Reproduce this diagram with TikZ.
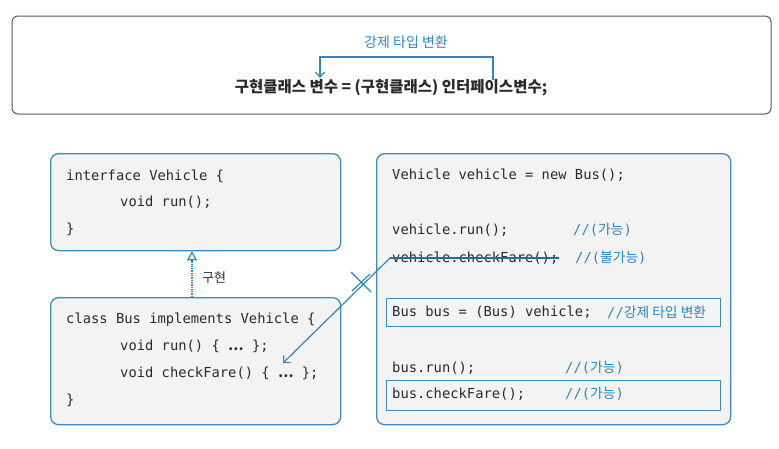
\documentclass[tikz,border=0pt]{standalone}
\usepackage{fontspec}
\setmainfont{Noto Sans CJK KR}
\setmonofont{DejaVu Sans Mono}
\newfontfamily\kr{Noto Sans CJK KR}
\usetikzlibrary{arrows.meta}
\definecolor{bbord}{HTML}{3F8BBA}
\definecolor{bfill}{HTML}{F3F3F3}
\definecolor{btext}{HTML}{2F86C0}
\definecolor{ctext}{HTML}{2A2A2A}
\tikzset{
  codebox/.style={draw=bbord, fill=bfill, line width=1.3pt, rounded corners=8pt},
  inbox/.style={draw=bbord, line width=1.2pt},
  code/.style={anchor=west, inner sep=0pt, font=\ttfamily\fontsize{13.8}{15}\selectfont, text=ctext},
  cmt/.style={anchor=west, inner sep=0pt, font=\ttfamily\fontsize{13.8}{15}\selectfont, text=btext},
  blue line/.style={draw=btext, line width=1.2pt},
}
\begin{document}
\begin{tikzpicture}[x=1pt,y=-1pt]
\useasboundingbox (0,0) rectangle (779,448);
% top box
\draw[draw=black!65, line width=1pt, rounded corners=6pt, fill=white] (12,16) rectangle (771,114);
\node[inner sep=0pt, font=\kr\bfseries\fontsize{15.5}{17}\selectfont, text=ctext] (formula) at (391,88) {구현클래스 변수 = (구현클래스) 인터페이스변수;};
\node[inner sep=0pt, font=\kr\fontsize{14}{16}\selectfont, text=btext] (cast) at (406,42) {강제 타입 변환};
\coordinate (bl) at (320,78);
\coordinate (br) at (493,80);
\draw[blue line, -{Straight Barb[length=5pt,width=9pt]}] (br) -- (493,57) -- (320,57) -- (bl);

% left boxes
\node[codebox, minimum width=290pt, minimum height=97pt, anchor=north west] (iface) at (50,153) {};
\node[code] (i1) at (66,176) {interface Vehicle \{};
\node[code] (i2) at (120,202) {void run();};
\node[code] (i3) at (66,229) {\}};

\node[codebox, minimum width=290pt, minimum height=127pt, anchor=north west] (bus) at (50,297) {};
\node[code] (b1) at (66,320) {class Bus implements Vehicle \{};
\node[code] (b2) at (120,346) {void run() \{ {\kr\bfseries …} \};};
\node[code] (b3) at (120,373) {void checkFare() \{ {\kr\bfseries …} \};};
\node[code] (b4) at (66,400) {\}};

\draw[draw=btext, line width=1.3pt, densely dotted, -{Triangle[open, fill=white, length=9pt, width=10pt, line width=1.2pt]}] (bus.north -| 192,0) -- (iface.south -| 192,0);
\node[anchor=west, inner sep=0pt, font=\kr\fontsize{13}{15}\selectfont, text=ctext] (impl) at (202,278) {구현};

% right box
\node[codebox, minimum width=354pt, minimum height=271pt, anchor=north west] (main) at (376,153) {};
\node[code] (r1) at (392,175) {Vehicle vehicle = new Bus();};
\node[code] (r2) at (392,230) {vehicle.run();};
\node[cmt] (c2) at (573,230) {//({\kr 가능})};
\node[code] (r3) at (392,258) {vehicle.checkFare();};
\node[cmt] (c3) at (575,258) {//({\kr 불가능})};
\draw[draw=btext!80!black, line width=1.1pt] (r3.west) ++(-2,0) coordinate (sA) -- (r3.east);

\node[inbox, minimum width=334pt, minimum height=28pt, anchor=north west] (castbox) at (386,298) {};
\node[code] (r4) at (392,312) {Bus bus = (Bus) vehicle;};
\node[cmt] (c4) at (607,312) {//{\kr 강제 타입 변환}};

\node[code] (r5) at (392,368) {bus.run();};
\node[cmt] (c5) at (565,368) {//({\kr 가능})};
\node[inbox, minimum width=334pt, minimum height=30pt, anchor=north west] (callbox) at (386,380) {};
\node[code] (r6) at (392,394) {bus.checkFare();};
\node[cmt] (c6) at (565,394) {//({\kr 가능})};

% invalid arrow
\coordinate (tip) at (283,363);
\draw[blue line, -{Straight Barb[length=5pt,width=10pt]}] (sA) -- (tip);
\draw[blue line] (351,272) -- (371,292);
\draw[blue line] (352,291) -- (370,274);
\end{tikzpicture}
\end{document}
